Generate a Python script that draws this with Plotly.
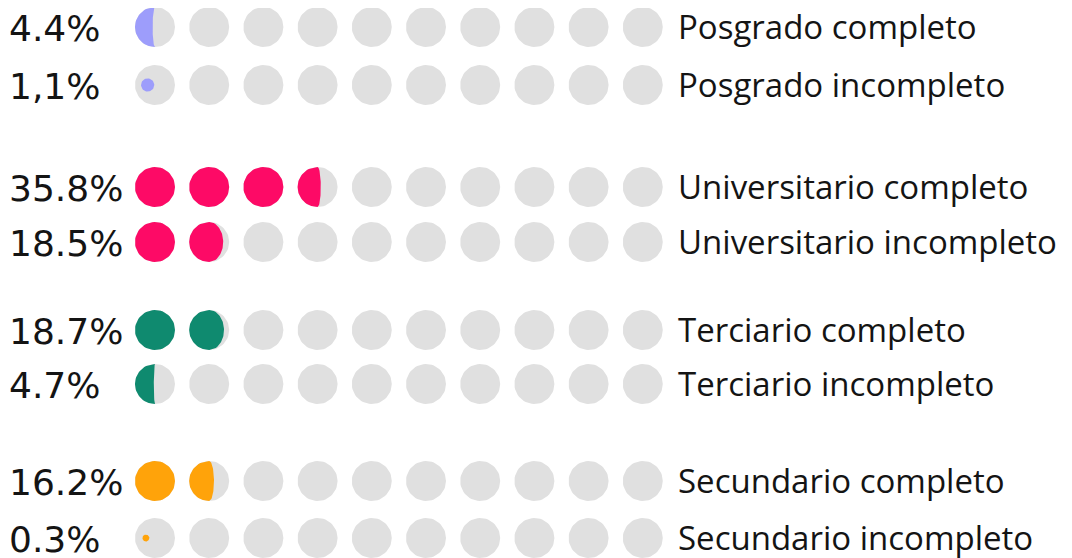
import numpy as np
import plotly.graph_objects as go

# ---- data ----
categories = ["Posgrado completo", "Posgrado incompleto",
              "Universitario completo", "Universitario incompleto",
              "Terciario completo", "Terciario incompleto",
              "Secundario completo", "Secundario incompleto"]
values = [4.4, 1.1, 35.8, 18.5, 18.7, 4.7, 16.2, 0.3]
value_labels = ["4.4%", "1,1%", "35.8%", "18.5%", "18.7%", "4.7%", "16.2%", "0.3%"]
group_colors = ["#9d9dfb", "#9d9dfb", "#fd0a66", "#fd0a66",
                "#0f8a6f", "#0f8a6f", "#ffa30a", "#ffa30a"]

# ---- layout constants (pixels) ----
W, H = 1072, 558
OFF = 8  # page body margin compensation
row_y = [27, 85, 187, 242, 330, 384, 481, 538]
x0, dx, R = 155, 54.2, 20
n_icons = 10
gray = "#e0e0e0"


def circle(cx, cy, r, n=60):
    t = np.linspace(0, 2 * np.pi, n)
    return list(cx + r * np.cos(t)), list(cy + r * np.sin(t))


def moon(cx, cy, r, f, n=40):
    k = 2 * f - 1
    ys = np.linspace(-r, r, n)
    w = np.sqrt(np.maximum(r * r - ys ** 2, 0))
    xl = cx - w
    xr = cx + k * w
    xs = list(xl) + list(xr[::-1]) + [xl[0]]
    yy = list(cy + ys) + list(cy + ys[::-1]) + [cy + ys[0]]
    return xs, yy


fig = go.Figure()

# gray background circles
gx, gy = [], []
for i in range(len(values)):
    for j in range(n_icons):
        cx_, cy_ = circle(x0 + j * dx, row_y[i], R)
        gx += cx_ + [None]
        gy += cy_ + [None]
fig.add_trace(go.Scatter(x=gx, y=gy, mode="lines", fill="toself",
                         fillcolor=gray, line=dict(width=0), hoverinfo="skip"))

# coloured icons
for i, v in enumerate(values):
    full = int(v // 10)
    frac = (v - full * 10) / 10
    px, py = [], []
    for j in range(full):
        cx_, cy_ = circle(x0 + j * dx, row_y[i], R)
        px += cx_ + [None]
        py += cy_ + [None]
    if frac > 0:
        cx = x0 + full * dx
        if frac < 0.2:
            r = R * np.sqrt(frac)
            cx_, cy_ = circle(cx - (R - r) * 0.55, row_y[i], r)
        else:
            cx_, cy_ = moon(cx, row_y[i], R, frac)
        px += cx_ + [None]
        py += cy_ + [None]
    fig.add_trace(go.Scatter(x=px, y=py, mode="lines", fill="toself",
                             fillcolor=group_colors[i], line=dict(width=0),
                             hoverinfo="skip"))

# text labels
fig.add_trace(go.Scatter(x=[9] * len(values), y=[y + 5 for y in row_y],
                         mode="text", text=value_labels,
                         textposition="middle right",
                         textfont=dict(family="DejaVu Sans", size=36, color="#141414"),
                         hoverinfo="skip"))
fig.add_trace(go.Scatter(x=[678] * len(values), y=[y + 4 for y in row_y],
                         mode="text", text=categories,
                         textposition="middle right",
                         textfont=dict(family="Open Sans", size=33, color="#141414"),
                         hoverinfo="skip"))

fig.update_layout(width=W, height=H, margin=dict(l=0, r=0, t=0, b=0),
                  paper_bgcolor="white", plot_bgcolor="white", showlegend=False,
                  xaxis=dict(range=[OFF, W + OFF], visible=False, fixedrange=True),
                  yaxis=dict(range=[H + OFF, OFF], visible=False, fixedrange=True))

fig.write_html("out.html")
